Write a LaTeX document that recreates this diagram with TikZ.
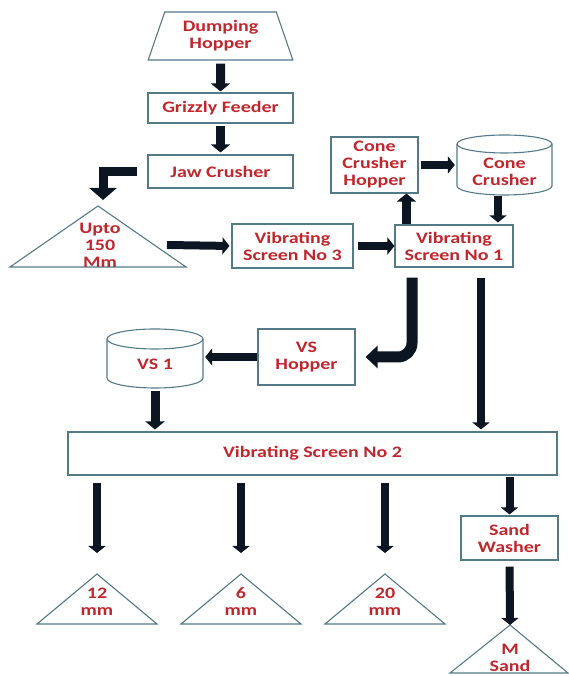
\documentclass[tikz,border=0pt]{standalone}
\usepackage{fontspec}
\usetikzlibrary{arrows.meta,shapes.geometric}
\newfontfamily\etiq{Carlito}[FakeStretch=1.25]
\definecolor{vora}{RGB}{84,122,136}
\definecolor{roig}{RGB}{192,39,45}
\definecolor{fletxa}{RGB}{12,22,34}

\begin{document}
\begin{tikzpicture}[x=1pt,y=1pt,
    txt/.style={text=roig,font={\fontsize{16}{17}\selectfont\etiq\bfseries},align=center,inner sep=0pt},
    caixa/.style={txt,draw=vora,line width=1.1pt},
    contorn/.style={draw=vora,line width=1.1pt},
    flux/.style={draw=fletxa,line width=9pt,-{Triangle[width=19pt,length=8pt]}},
    prim/.style={flux,line width=8pt,-{Triangle[width=17pt,length=7pt]}}]
    \useasboundingbox (0,0) rectangle (569,676);
    % tolva, alimentador i trituradora
    \node[caixa,trapezium,trapezium angle=70,trapezium stretches=true,minimum width=145pt,minimum height=48pt] (tolva) at (220.5,640) {Dumping\\Hopper};
    \node[caixa,minimum width=145pt,minimum height=30pt] (grizzly) at (220.5,568) {Grizzly Feeder};
    \node[caixa,minimum width=145pt,minimum height=33pt] (jaw) at (220.5,504.5) {Jaw Crusher};
    \draw[contorn] (98,470) -- (186,409) -- (10,409) -- cycle; % triangle 150
    \coordinate (t150) at (98,470); \coordinate (t150-d) at (167,431);
    \node[txt] (t150-t) at (100,431) {Upto\\150\\Mm};
    \node[caixa,minimum width=121pt,minimum height=44pt] (vs3) at (292.5,430) {Vibrating\\Screen No 3};
    \node[caixa,minimum width=118pt,minimum height=42pt] (vs1) at (454,430) {Vibrating\\Screen No 1};
    \node[caixa,minimum width=87pt,minimum height=56pt] (cch) at (374.5,511) {Cone\\Crusher\\Hopper};
    \draw[contorn] (457,532) -- (457,490) arc[start angle=180,end angle=360,x radius=47.5pt,y radius=9pt] -- (552,532);
    \draw[contorn] (504.5,532) ellipse[x radius=47.5pt,y radius=9pt]; % cilindre
    \node[txt,minimum width=95pt,minimum height=46pt] (cone) at (504.5,504) {Cone\\Crusher};
    % segona part
    \node[caixa,minimum width=97pt,minimum height=56pt] (vsh) at (306.5,319) {VS\\Hopper};
    \draw[contorn] (107,337) -- (107,298) arc[start angle=180,end angle=360,x radius=48pt,y radius=10pt] -- (203,337);
    \draw[contorn] (155,337) ellipse[x radius=48pt,y radius=10pt];
    \node[txt,minimum width=96pt,minimum height=48pt] (vsc) at (155,312) {VS 1};
    \node[caixa,minimum width=489pt,minimum height=43pt] (vs2) at (312.5,222.5) {Vibrating Screen No 2};
    \node[caixa,minimum width=97pt,minimum height=44pt] (sw) at (509.5,138) {Sand\\Washer};
    % piles finals
    \draw[contorn] (97,102) -- (157,52) -- (37,52) -- cycle; \coordinate (t12) at (97,102);
    \draw[contorn] (241,102) -- (301,52) -- (181,52) -- cycle; \coordinate (t6) at (241,102);
    \draw[contorn] (385,102) -- (445,52) -- (325,52) -- cycle; \coordinate (t20) at (385,102);
    \draw[contorn] (510,51) -- (568,3) -- (450,3) -- cycle; \coordinate (tms) at (510,51);
    \node[txt] (t12-t) at (97,74) {12\\mm};
    \node[txt] (t6-t) at (241,74) {6\\mm};
    \node[txt] (t20-t) at (385,74) {20\\mm};
    \node[txt] (tms-t) at (510,18) {M\\Sand};
    % fletxes
    \draw[flux,shorten <=3pt,shorten >=1pt] (tolva.south) -- (grizzly.north);
    \draw[flux,shorten <=2pt,shorten >=2pt] (grizzly.south) -- (jaw.north);
    \draw[flux,-{Triangle[width=27pt,length=12pt]},shorten <=10pt] (jaw.west) -| ([xshift=5pt,yshift=6pt]t150);
    \draw[prim,shorten >=2pt] (t150-d) -- (vs3.west);
    \draw[prim,shorten <=4pt] (vs3.east) -- (vs1.west);
    \draw[flux] ([xshift=12pt]vs1.north west) -- ([xshift=12pt]vs1.north west |- cch.south);
    \draw[prim,shorten <=2pt,shorten >=2pt] (cch.east) -- (cch.east -| cone.west);
    \draw[prim,shorten <=1pt,shorten >=2pt] ([xshift=-6.5pt]cone.south) -- ([xshift=-6.5pt]cone.south |- vs1.north);
    \draw[flux,line width=11pt,rounded corners=14pt,-{Triangle[width=22pt,length=12pt]},shorten <=10pt,shorten >=10pt] ([xshift=-42pt]vs1.south) |- (vsh.east);
    \draw[prim,shorten <=10pt,shorten >=2pt] ([xshift=27pt]vs1.south) -- ([xshift=27pt]vs1.south |- vs2.north);
    \draw[prim,shorten >=2pt] (vsh.west) -- (vsh.west -| vsc.east);
    \draw[flux,shorten <=3pt,shorten >=2pt] (vsc.south) -- (vsc.south |- vs2.north);
    \draw[prim,shorten <=7pt,shorten >=21pt] (t12 |- vs2.south) -- (t12);
    \draw[prim,shorten <=7pt,shorten >=21pt] (t6 |- vs2.south) -- (t6);
    \draw[prim,shorten <=7pt,shorten >=21pt] (t20 |- vs2.south) -- (t20);
    \draw[prim,shorten <=1pt,shorten >=1pt] (sw.north |- vs2.south) -- (sw.north);
    \draw[prim,shorten <=6pt] (sw.south) -- (tms);
\end{tikzpicture}
\end{document}
